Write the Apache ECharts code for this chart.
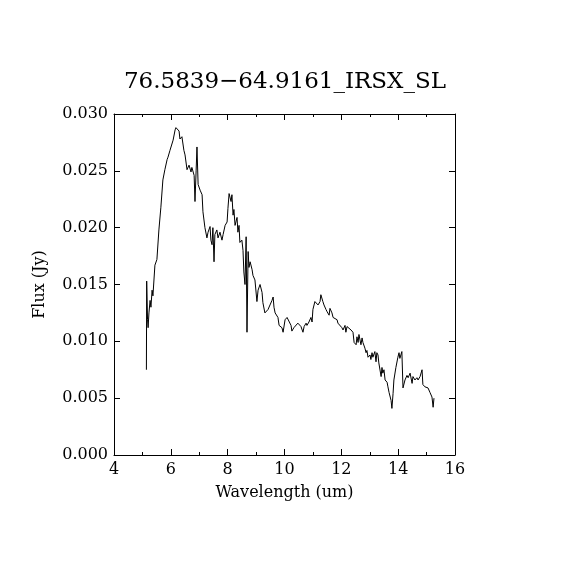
<!DOCTYPE html>
<html>
<head>
<meta charset="utf-8">
<script src="https://cdn.jsdelivr.net/npm/echarts@6/dist/echarts.min.js"></script>
<style>html,body{margin:0;padding:0;background:#fff}#c{width:570px;height:570px}</style>
</head>
<body>
<div id="c"></div>
<script>
const titleText = "76.5839\u221264.9161_IRSX_SL";
const xTicks = [4, 6, 8, 10, 12, 14, 16];
const yTicks = ["0.000", "0.005", "0.010", "0.015", "0.020", "0.025", "0.030"];
const wavelength = [5.14,5.15,5.18,5.20,5.23,5.27,5.30,5.34,5.37,5.44,5.51,5.58,5.65,5.72,5.79,5.87,5.90,5.97,6.08,6.15,6.18,6.22,6.29,6.32,6.36,6.39,6.46,6.50,6.57,6.64,6.71,6.74,6.82,6.85,6.89,6.92,6.96,7.03,7.10,7.13,7.20,7.27,7.31,7.38,7.41,7.45,7.48,7.52,7.55,7.62,7.66,7.73,7.80,7.84,7.91,7.98,8.01,8.05,8.12,8.15,8.19,8.22,8.26,8.33,8.36,8.40,8.43,8.50,8.54,8.57,8.61,8.65,8.68,8.72,8.75,8.79,
  8.86,8.89,8.96,9.03,9.07,9.14,9.21,9.24,9.31,9.38,9.42,9.49,9.56,9.60,9.63,9.67,9.74,9.77,9.81,9.88,9.91,9.95,10.02,10.09,10.16,10.23,10.26,10.33,10.40,10.47,10.51,10.58,10.65,10.69,10.76,10.79,10.86,10.93,10.97,11.00,11.07,11.14,11.18,11.25,11.28,11.35,11.39,11.46,11.50,11.57,11.60,11.67,11.71,11.78,11.85,11.88,11.95,12.02,12.06,12.13,12.16,12.20,12.27,12.34,12.41,12.45,12.48,12.52,12.55,12.59,12.62,12.69,12.73,12.76,12.83,12.87,12.90,12.94,13.01,13.04,13.08,13.11,13.18,13.22,13.25,13.29,13.32,13.40,13.43,13.46,13.50,13.54,13.61,13.64,13.68,13.75,13.78,13.82,13.85,13.92,13.99,14.03,14.06,14.13,
  14.17,14.24,14.31,14.35,14.42,14.49,14.52,14.59,14.66,14.70,14.77,14.84,14.87,14.94,15.01,15.05,15.12,15.19,15.23,15.26];
const flux = [0.0075,0.0153,0.0119,0.0112,0.0125,0.0136,0.0130,0.0145,0.0140,0.0167,0.0172,0.0198,0.0218,0.0242,0.0251,0.0260,0.0262,0.0268,0.0277,0.0286,0.0288,0.0287,0.0285,0.0278,0.0277,0.0280,0.0268,0.0264,0.0251,0.0255,0.0249,0.0253,0.0246,0.0223,0.0250,0.0271,0.0238,0.0233,0.0229,0.0214,0.0200,0.0191,0.0196,0.0201,0.0189,0.0185,0.0200,0.0170,0.0194,0.0198,0.0191,0.0196,0.0189,0.0194,0.0202,0.0205,0.0217,0.0230,0.0223,0.0229,0.0211,0.0216,0.0202,0.0209,0.0196,0.0202,0.0187,0.0189,0.0180,0.0161,0.0150,0.0192,0.0108,0.0179,0.0165,0.0170,
  0.0163,0.0158,0.0154,0.0135,0.0145,0.0150,0.0143,0.0134,0.0125,0.0126,0.0128,0.0132,0.0136,0.0139,0.0130,0.0125,0.0126,0.0121,0.0114,0.0113,0.0112,0.0108,0.0119,0.0121,0.0120,0.0114,0.0109,0.0112,0.0113,0.0116,0.0117,0.0113,0.0108,0.0113,0.0116,0.0114,0.0117,0.0121,0.0117,0.0128,0.0135,0.0134,0.0132,0.0135,0.0141,0.0135,0.0132,0.0128,0.0126,0.0123,0.0129,0.0125,0.0121,0.0121,0.0119,0.0116,0.0117,0.0112,0.0110,0.0114,0.0108,0.0113,0.0112,0.0110,0.0108,0.0099,0.0099,0.0097,0.0104,0.0099,0.0106,0.0097,0.0103,0.0099,0.0094,0.0090,0.0092,0.0086,0.0088,0.0084,0.0090,0.0086,0.0091,0.0082,0.0090,0.0088,0.0081,0.0069,0.0077,0.0072,0.0075,0.0066,0.0064,0.0060,0.0055,0.0048,0.0041,0.0054,0.0066,0.0077,0.0086,0.0090,0.0085,0.0091,
  0.0059,0.0066,0.0070,0.0068,0.0072,0.0063,0.0069,0.0066,0.0068,0.0066,0.0069,0.0075,0.0062,0.0060,0.0060,0.0059,0.0055,0.0051,0.0042,0.0050];

const seriesData = wavelength.map((w, i) => [w, flux[i]]);
const font = "DejaVu Serif";
const chart = echarts.init(document.getElementById('c'), null, {renderer: 'canvas'});
const common = {
  type: 'value', splitLine: {show: false},
  axisLine: {show: true, onZero: false, lineStyle: {color: '#000', width: 1}},
};
chart.setOption({
  animation: false,
  backgroundColor: '#fff',
  title: {
    text: titleText, left: 'center', top: 66,
    textStyle: {fontFamily: font, fontSize: 23, fontWeight: 'normal', color: '#000'}
  },
  grid: {left: 114, right: 115, top: 114, bottom: 115, containLabel: false},
  xAxis: [
    Object.assign({}, common, {
      position: 'bottom', min: xTicks[0], max: xTicks[xTicks.length - 1], interval: 2,
      name: 'Wavelength (um)', nameLocation: 'middle', nameGap: 30,
      nameTextStyle: {fontFamily: font, fontSize: 16, color: '#000'},
      axisTick: {show: true, inside: true, length: 6, lineStyle: {color: '#000'}},
      minorTick: {show: true, splitNumber: 2, length: 3, lineStyle: {color: '#000'}},
      axisLabel: {show: true, margin: 7, fontFamily: font, fontSize: 16, color: '#000'}
    }),
    Object.assign({}, common, {
      position: 'top', min: xTicks[0], max: xTicks[xTicks.length - 1], interval: 2,
      axisTick: {show: true, inside: true, length: 6, lineStyle: {color: '#000'}},
      minorTick: {show: true, splitNumber: 2, length: 3, lineStyle: {color: '#000'}},
      axisLabel: {show: false}
    })
  ],
  yAxis: [
    Object.assign({}, common, {
      position: 'left', min: 0, max: 0.03, interval: 0.005,
      name: 'Flux (Jy)', nameLocation: 'middle', nameGap: 66, nameRotate: 90,
      nameTextStyle: {fontFamily: font, fontSize: 16, color: '#000'},
      axisTick: {show: true, inside: true, length: 6, lineStyle: {color: '#000'}},
      axisLabel: {show: true, margin: 6, fontFamily: font, fontSize: 16, color: '#000',
        formatter: (v) => yTicks[Math.round(v / 0.005)] || v.toFixed(3)}
    }),
    Object.assign({}, common, {
      position: 'right', min: 0, max: 0.03, interval: 0.005,
      axisTick: {show: true, inside: true, length: 6, lineStyle: {color: '#000'}},
      axisLabel: {show: false}
    })
  ],
  series: [{
    type: 'line', xAxisIndex: 0, yAxisIndex: 0,
    data: seriesData, showSymbol: false, symbol: 'none',
    lineStyle: {color: '#000', width: 1}
  }]
});
</script>
</body>
</html>
